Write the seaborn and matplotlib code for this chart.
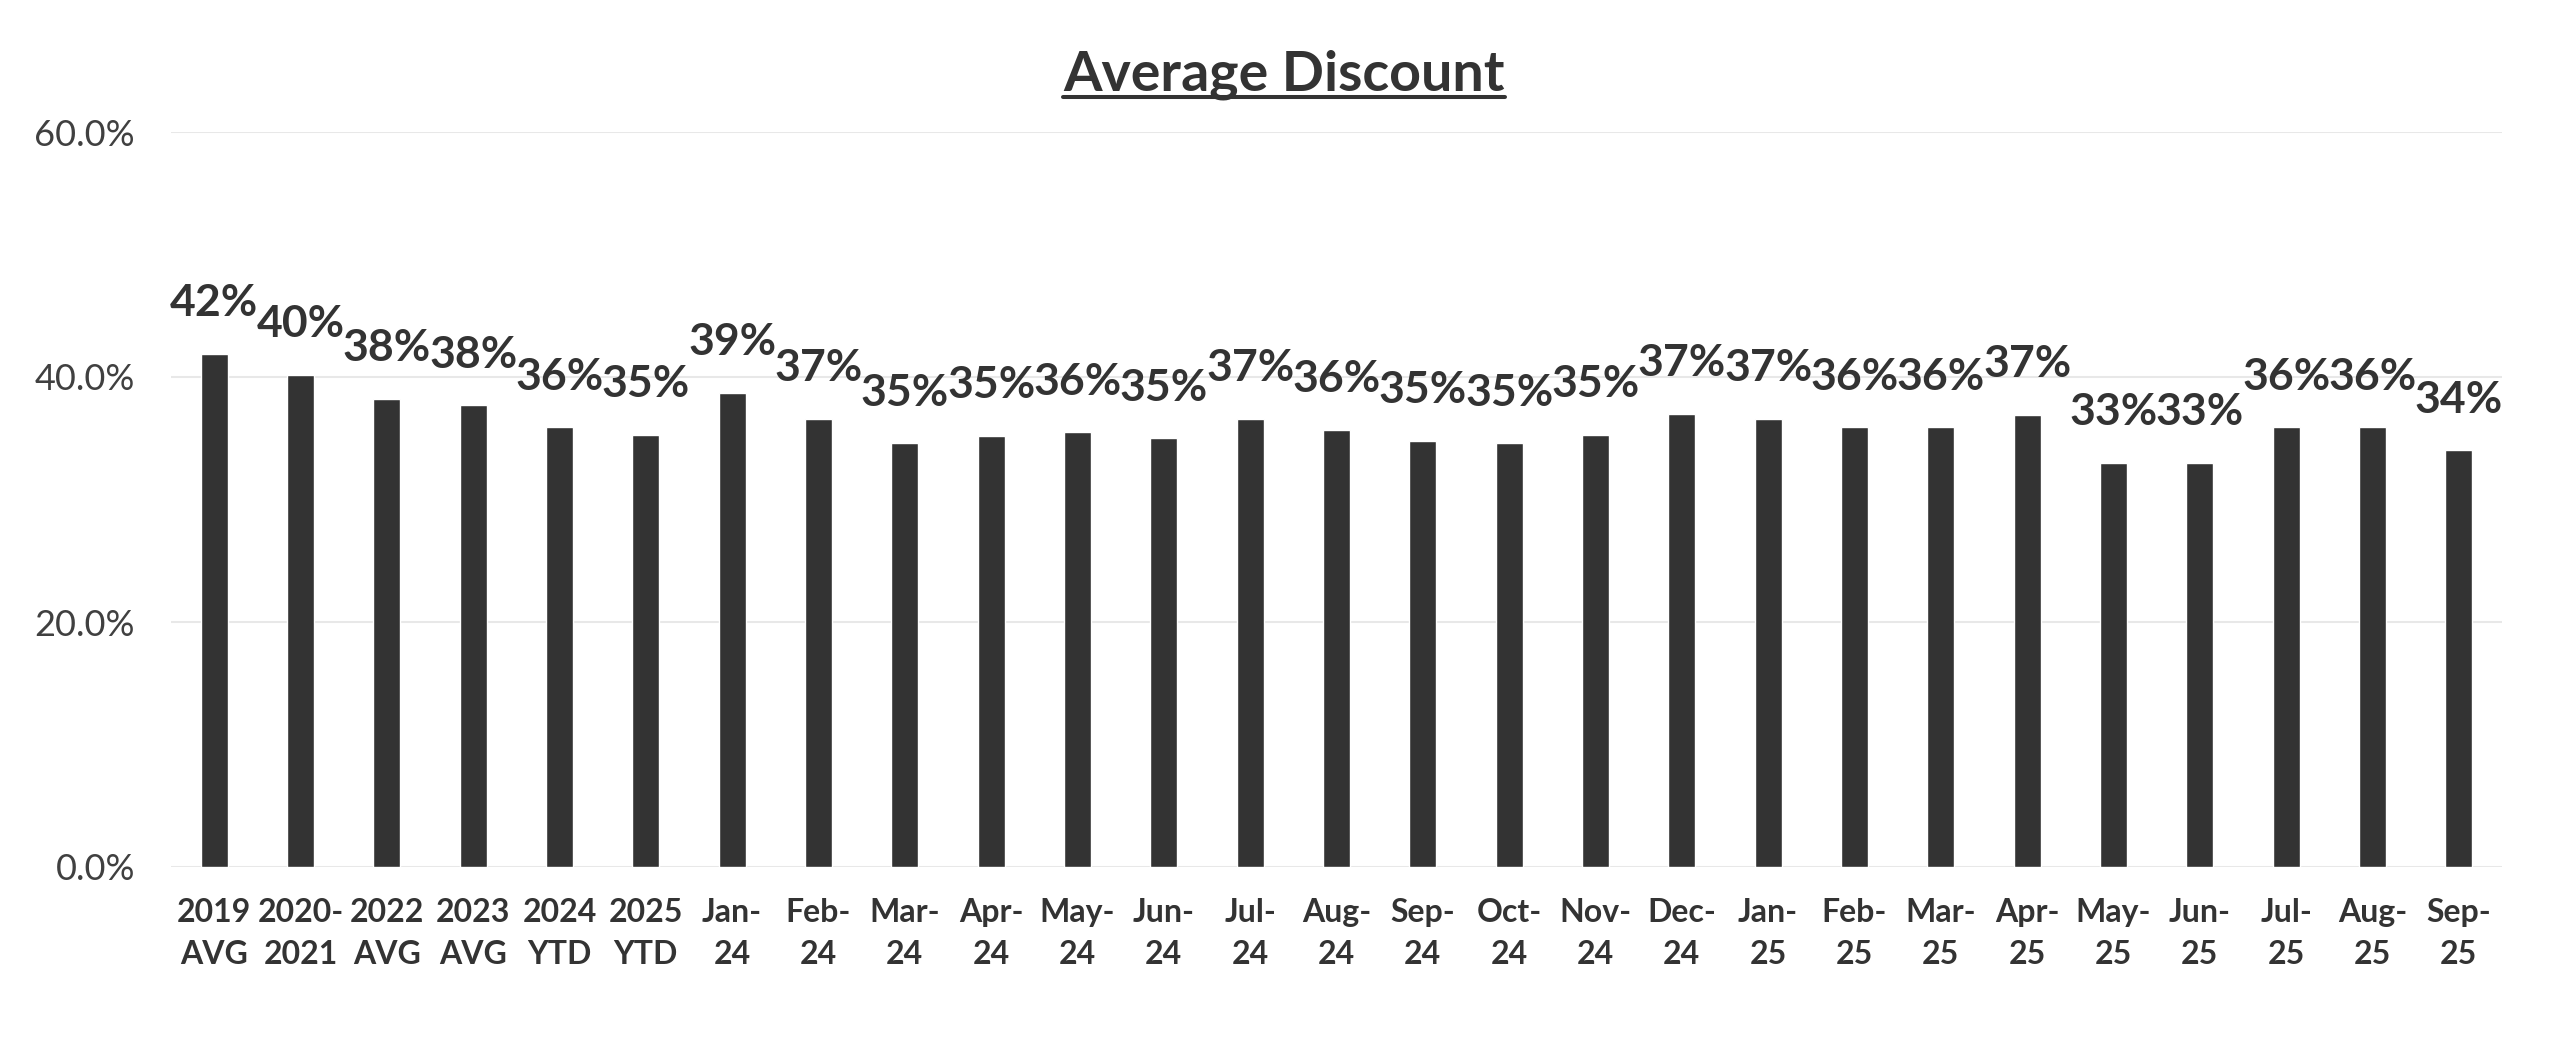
import matplotlib
matplotlib.use("Agg")
import matplotlib.pyplot as plt
import matplotlib.ticker as mticker
from matplotlib.lines import Line2D
import seaborn as sns

# Data
categories = ["2019\nAVG", "2020-\n2021", "2022\nAVG", "2023\nAVG", "2024\nYTD", "2025\nYTD",
              "Jan-\n24", "Feb-\n24", "Mar-\n24", "Apr-\n24", "May-\n24", "Jun-\n24",
              "Jul-\n24", "Aug-\n24", "Sep-\n24", "Oct-\n24", "Nov-\n24", "Dec-\n24",
              "Jan-\n25", "Feb-\n25", "Mar-\n25", "Apr-\n25", "May-\n25", "Jun-\n25",
              "Jul-\n25", "Aug-\n25", "Sep-\n25"]
discount = [0.419, 0.402, 0.382, 0.377, 0.359, 0.353,
            0.387, 0.366, 0.346, 0.352, 0.355, 0.350,
            0.366, 0.357, 0.348, 0.346, 0.353, 0.370,
            0.366, 0.359, 0.359, 0.369, 0.330, 0.330,
            0.359, 0.359, 0.340]
y_ticks = [0.0, 0.2, 0.4, 0.6]

sns.set_theme(style="white")
plt.rcParams['font.family'] = ['Lato', 'DejaVu Sans']

dark = "#333333"
fig, ax = plt.subplots(figsize=(25.6, 10.64), dpi=100)
fig.subplots_adjust(left=171/2560, right=2502/2560, top=1-132/1064, bottom=1-867/1064)

sns.barplot(x=categories, y=discount, color=dark, width=0.31, saturation=1, ax=ax)

ax.set_ylim(0, 0.6)
ax.set_yticks(y_ticks)
ax.yaxis.set_major_formatter(mticker.PercentFormatter(1.0, decimals=1))
ax.grid(axis="y", color="#e8e8e8", linewidth=1.5)
ax.set_axisbelow(True)
sns.despine(ax=ax, left=True, bottom=True)
ax.tick_params(axis="y", labelsize=26, labelcolor="#404040", length=0, pad=26)
ax.tick_params(axis="x", labelsize=23, labelcolor=dark, length=0, pad=22)
for lab in ax.get_xticklabels():
    lab.set_fontweight("bold")
    lab.set_linespacing(1.55)
ax.set_xlabel("")
ax.set_ylabel("")

# value labels
for i, v in enumerate(discount):
    ax.annotate(f"{round(v * 100):.0f}%", (i, v), xytext=(0, 22), textcoords="offset points",
                ha="center", va="bottom", fontsize=32, fontweight="bold", color=dark)

# underlined title
title = fig.text(0.5016, 1 - 90/1064, "Average Discount", ha="center", va="baseline",
                 fontsize=40, fontweight="bold", color=dark)
fig.canvas.draw()
bb = title.get_window_extent().transformed(fig.transFigure.inverted())
uy = 1 - 97/1064
fig.add_artist(Line2D([bb.x0, bb.x1], [uy, uy], transform=fig.transFigure,
                      color=dark, linewidth=2.9))

fig.savefig("out.png", dpi=100, facecolor="white")
